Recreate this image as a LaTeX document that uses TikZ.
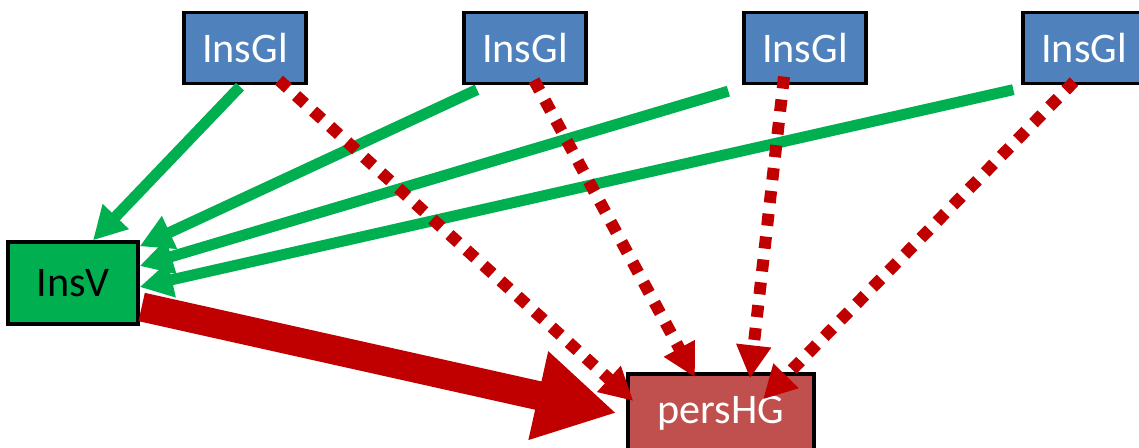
\documentclass[tikz,border=0pt]{standalone}
\usepackage{fontspec}
\setmainfont{Carlito}
\usetikzlibrary{positioning, arrows.meta}

\definecolor{boxblue}{HTML}{4F81BD}
\definecolor{boxgreen}{HTML}{00B050}
\definecolor{boxred}{HTML}{C0504D}
\definecolor{darkred}{HTML}{C00000}

\begin{document}
\begin{tikzpicture}[
    x=0.02cm, y=-0.02cm,
    box/.style={draw=black, line width=1.9pt, minimum width=2.44cm, minimum height=1.42cm, font=\fontsize{24}{28}\selectfont},
    insgl/.style={box, fill=boxblue, text=white},
    flow/.style={-{Triangle[length=0.66cm, width=0.68cm]}, draw=boxgreen, line width=0.22cm},
    link/.style={-{Triangle[length=0.66cm, width=0.66cm]}, draw=darkred, line width=0.24cm, dash pattern=on 0.24cm off 0.22cm},
    main/.style={-{Triangle[length=1.6cm, width=1.7cm]}, draw=darkred, line width=0.58cm}
]
\useasboundingbox (0,0) rectangle (1139,447);

% Source boxes along the top
\node[insgl] (g1) at (245,48) {InsGl};
\node[insgl] (g2) at (525,48) {InsGl};
\node[insgl] (g3) at (805,48) {InsGl};
\node[insgl] (g4) at (1084,48) {InsGl};

% Collector and target
\node[box, fill=boxgreen, minimum width=2.6cm, minimum height=1.64cm] (v) at (73,283) {InsV};
\node[box, fill=boxred, text=white, minimum width=3.72cm, minimum height=1.56cm] (p) at (721,413) {persHG};

% Green arrows into InsV
\draw[flow] ([xshift=-0.1cm, yshift=-0.03cm]g1.south) -- ([xshift=0.4cm]v.north);
\draw[flow] ([xshift=-0.96cm, yshift=-0.09cm]g2.south) -- ([yshift=-0.12cm]v.north east);
\draw[flow] ([xshift=-0.28cm, yshift=-0.12cm]g3.south west) -- ([yshift=0.34cm]v.east);
\draw[flow] ([xshift=-0.16cm, yshift=-0.09cm]g4.south west) -- ([yshift=-0.08cm]v.east);

% Dotted red arrows into persHG
\draw[link] ([xshift=0.68cm, yshift=0.1cm]g1.south) -- ([xshift=0.14cm, yshift=0.24cm]p.west);
\draw[link] ([xshift=0.18cm, yshift=0.1cm]g2.south) -- ([xshift=-0.52cm, yshift=-0.1cm]p.north);
\draw[link] ([xshift=-0.42cm, yshift=0.17cm]g3.south) -- ([xshift=0.58cm, yshift=-0.12cm]p.north);
\draw[link] ([xshift=-0.2cm, yshift=0.07cm]g4.south) -- ([xshift=0.84cm, yshift=-0.54cm]p.north);

% Thick red arrow from InsV
\draw[main] ([xshift=0.04cm, yshift=-0.48cm]v.east) -- ([xshift=-0.2cm]p.west);

\end{tikzpicture}
\end{document}
